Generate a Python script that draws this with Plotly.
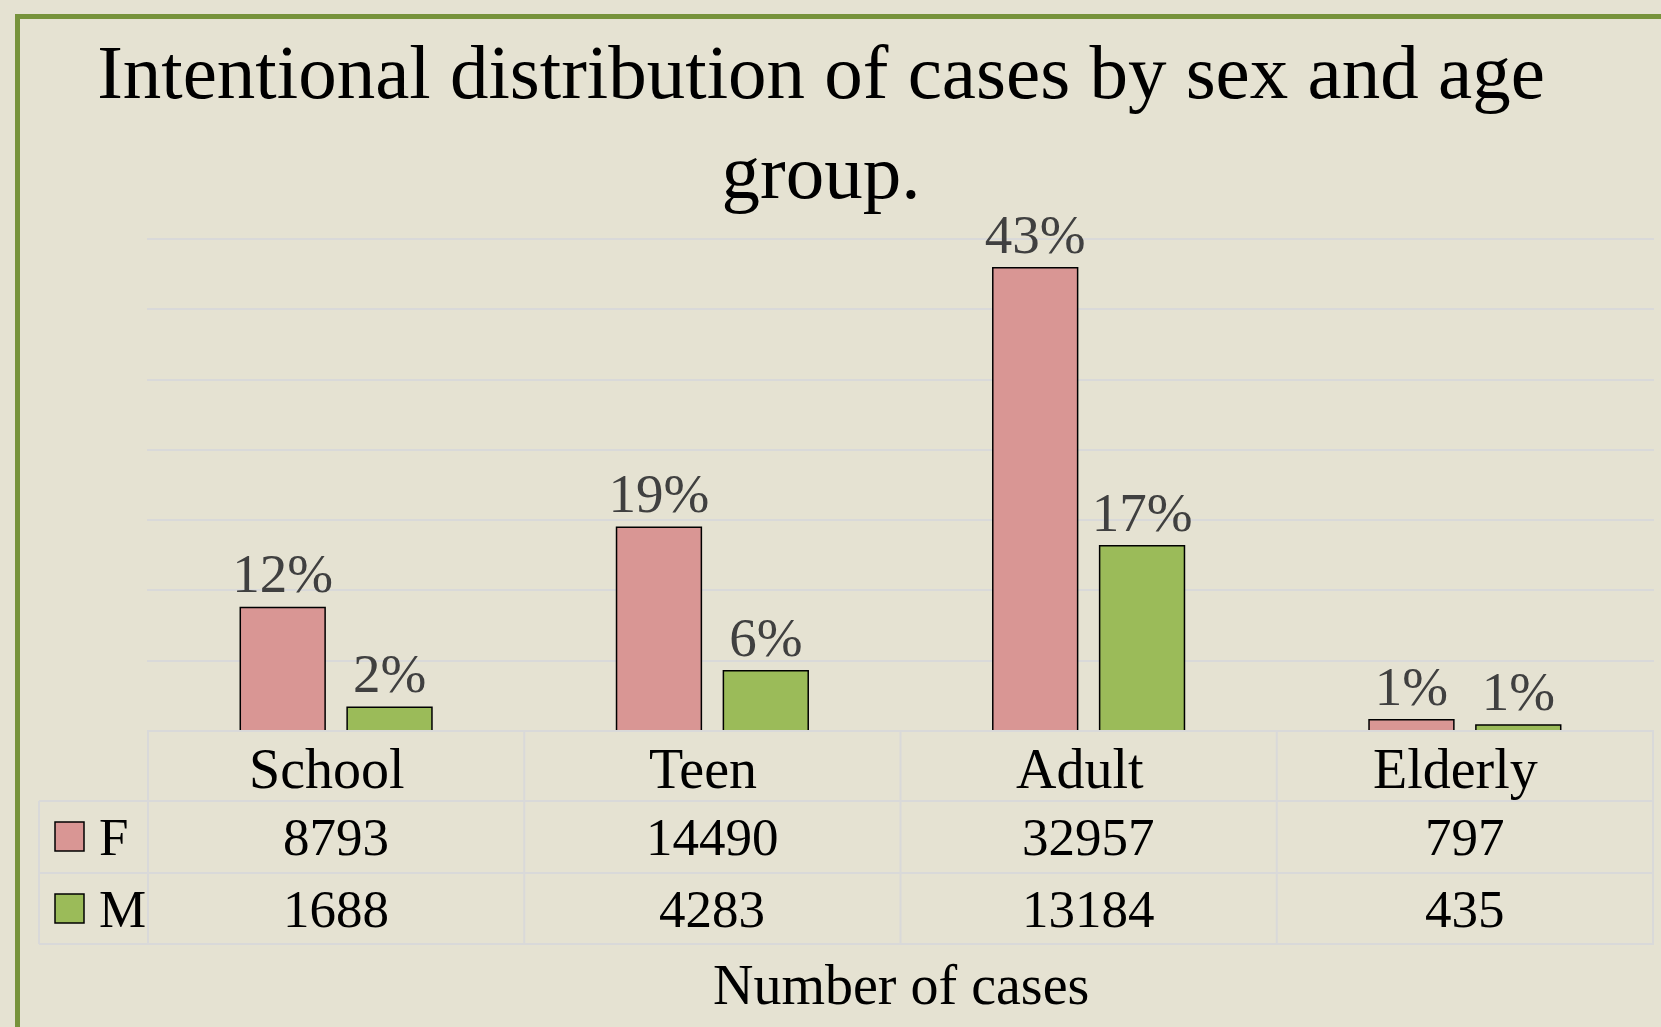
import plotly.graph_objects as go

W, H = 1661, 1027

categories = ["School", "Teen", "Adult", "Elderly"]
female = [8793, 14490, 32957, 797]
male = [1688, 4283, 13184, 435]
pct_f = ["12%", "19%", "43%", "1%"]
pct_m = ["2%", "6%", "17%", "1%"]
series_names = ["F", "M"]
series_colors = ["#D99694", "#9BBB59"]
title_text = "Intentional distribution of cases by sex and age<br>group."
axis_title = "Number of cases"
y_step = 5000
y_top_tick = 35000

BG = "#E5E2D2"
GRID = "#D9D9D9"
SERIF = "Liberation Serif, Times New Roman, serif"


def px(x):
    return x / W


def py(y):
    return 1 - y / H


fig = go.Figure()
for name, vals, col, txt in [(series_names[0], female, series_colors[0], pct_f),
                             (series_names[1], male, series_colors[1], pct_m)]:
    fig.add_trace(go.Bar(
        x=categories, y=vals, name=name, text=txt,
        textposition="outside", constraintext="none", cliponaxis=False,
        textfont=dict(family=SERIF, size=55, color="#404040"),
        marker=dict(color=col, line=dict(color="#000000", width=1.5)),
        showlegend=False,
    ))

# plot area geometry (pixels)
YMAX = y_top_tick * 1.012
PL, PR, PB = 147, 1654, 731
PT = PB - (PB - 239) * YMAX / y_top_tick
rows = [731, 801, 873, 944]
TL = 39

shapes = []
# frame
shapes.append(dict(type="rect", xref="paper", yref="paper",
                   x0=px(17.5), x1=px(1700), y0=py(16.5), y1=py(1100),
                   line=dict(color="#77933C", width=5), layer="below"))
# table horizontal lines
shapes.append(dict(type="line", xref="paper", yref="paper", x0=px(PL), x1=px(PR),
                   y0=py(rows[0]), y1=py(rows[0]), line=dict(color=GRID, width=2)))
for r in rows[1:]:
    shapes.append(dict(type="line", xref="paper", yref="paper", x0=px(TL), x1=px(PR),
                       y0=py(r), y1=py(r), line=dict(color=GRID, width=2)))
# table vertical lines (category boundaries on the x axis)
for i in range(len(categories) + 1):
    shapes.append(dict(type="line", xref="x", yref="paper", x0=i - 0.5, x1=i - 0.5,
                       y0=py(rows[0]), y1=py(rows[3]), line=dict(color=GRID, width=2)))
shapes.append(dict(type="line", xref="paper", yref="paper", x0=px(TL), x1=px(TL),
                   y0=py(rows[1]), y1=py(rows[3]), line=dict(color=GRID, width=2)))
# legend keys
for k, col in enumerate(series_colors):
    top = rows[1 + k] + 21
    shapes.append(dict(type="rect", xref="paper", yref="paper",
                       x0=px(55), x1=px(84), y0=py(top), y1=py(top + 29),
                       fillcolor=col, line=dict(color="#000000", width=1.5)))

annotations = []
for i, c in enumerate(categories):
    annotations.append(dict(x=c, xref="x", y=py((rows[0] + rows[1]) / 2 + 3), yref="paper",
                            text=c, showarrow=False, xanchor="center", yanchor="middle",
                            xshift=-9, font=dict(family=SERIF, size=56, color="#000000")))
    for k, vals in enumerate([female, male]):
        annotations.append(dict(x=c, xref="x", y=py((rows[1 + k] + rows[2 + k]) / 2), yref="paper",
                                text=str(vals[i]), showarrow=False, xanchor="center", yanchor="middle",
                                font=dict(family=SERIF, size=53, color="#000000")))
for k, name in enumerate(series_names):
    annotations.append(dict(x=px(97), xref="paper", y=py((rows[1 + k] + rows[2 + k]) / 2), yref="paper",
                            text=name, showarrow=False, xanchor="left", yanchor="middle",
                            font=dict(family=SERIF, size=53, color="#000000")))
annotations.append(dict(x=px((PL + PR) / 2), xref="paper", y=py(985), yref="paper",
                        text=axis_title, showarrow=False, xanchor="center", yanchor="middle",
                        font=dict(family=SERIF, size=56, color="#000000")))

fig.update_layout(
    width=W, height=H, autosize=False,
    margin=dict(l=0, r=0, t=0, b=0, pad=0),
    paper_bgcolor=BG, plot_bgcolor=BG,
    barmode="group", bargap=0.432, bargroupgap=0.206,
    title=dict(text=title_text, x=px(821), xanchor="center", xref="paper",
               y=py(98), yref="container", yanchor="top",
               font=dict(family=SERIF, size=77, color="#000000")),
    xaxis=dict(domain=[px(PL), px(PR)], showticklabels=False, showgrid=False,
               zeroline=False, showline=False, ticks=""),
    yaxis=dict(domain=[py(PB), py(PT)], range=[0, YMAX], tick0=0, dtick=y_step,
               showticklabels=False, showgrid=True, gridcolor=GRID, gridwidth=2,
               zeroline=False, showline=False, ticks=""),
    shapes=shapes, annotations=annotations,
)

fig.write_html("out.html", config={"displayModeBar": False},
               post_script="document.body.style.margin='0';document.body.style.background='" + BG + "';")
